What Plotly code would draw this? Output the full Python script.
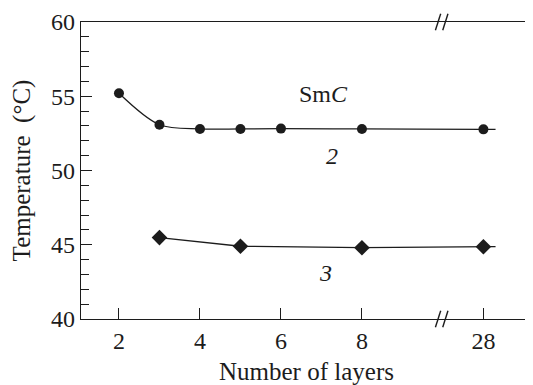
import plotly.graph_objects as go

# ---- data ----
layers_2 = [2, 3, 4, 5, 6, 8, 28]
temp_2 = [55.2, 53.08, 52.8, 52.8, 52.82, 52.8, 52.77]
layers_3 = [3, 5, 8, 28]
temp_3 = [45.48, 44.9, 44.8, 44.87]
x_tick_labels = [2, 4, 6, 8, 28]
y_ticks = [40, 45, 50, 55, 60]

BREAK_LAST = 8      # last value before the axis break
BREAK_POS = 11      # axis position used for values after the break
BREAK_MARK = 9.97   # where the // marks are drawn
TAIL = 0.3          # line continues a little past the last point


def axis_pos(n):
    return n if n <= BREAK_LAST else BREAK_POS


x2 = [axis_pos(v) for v in layers_2]
x3 = [axis_pos(v) for v in layers_3]

FONT = "Liberation Serif, Times New Roman, serif"
INK = "#1c1c1c"

fig = go.Figure()

# series 2 (smooth curve + circles)
fig.add_trace(go.Scatter(
    x=x2 + [x2[-1] + TAIL], y=temp_2 + [temp_2[-1]],
    mode="lines", line=dict(color=INK, width=1.3, shape="spline", smoothing=0.9),
    hoverinfo="skip", showlegend=False))
fig.add_trace(go.Scatter(
    x=x2, y=temp_2, mode="markers",
    marker=dict(symbol="circle", size=10, color=INK),
    showlegend=False))

# series 3 (straight segments + diamonds)
fig.add_trace(go.Scatter(
    x=x3 + [x3[-1] + TAIL], y=temp_3 + [temp_3[-1]],
    mode="lines", line=dict(color=INK, width=1.3),
    hoverinfo="skip", showlegend=False))
fig.add_trace(go.Scatter(
    x=x3, y=temp_3, mode="markers",
    marker=dict(symbol="diamond", size=12, color=INK),
    showlegend=False))

# axis break marks (top and bottom)
shapes = []
dx = 0.13
dy = 0.028
for yb in (0, 1):
    for off in (-0.09, 0.09):
        xc = BREAK_MARK + off
        shapes.append(dict(type="line", xref="x", yref="paper",
                           x0=xc - dx / 2, y0=yb - dy, x1=xc + dx / 2, y1=yb + dy,
                           line=dict(color=INK, width=1.4)))
# right border (light)
shapes.append(dict(type="line", xref="paper", yref="paper", x0=1, x1=1, y0=0, y1=1,
                   line=dict(color="#b0b0b0", width=1)))

annotations = [
    dict(x=7.04, y=55.13, text="Sm<i>C</i>", showarrow=False,
         font=dict(family=FONT, size=24, color=INK)),
    dict(x=7.25, y=51.0, text="<i>2</i>", showarrow=False,
         font=dict(family=FONT, size=24, color=INK)),
    dict(x=7.09, y=43.08, text="<i>3</i>", showarrow=False,
         font=dict(family=FONT, size=24, color=INK)),
]

# the page body has an 8px margin, so the figure is 8px smaller than the window
fig.update_layout(
    width=525, height=377,
    margin=dict(l=73, r=1, t=9, b=61),
    paper_bgcolor="white", plot_bgcolor="white",
    font=dict(family=FONT, size=24, color=INK),
    shapes=shapes, annotations=annotations,
    xaxis=dict(
        range=[1.062, 12.2],
        tickvals=[axis_pos(t) for t in x_tick_labels],
        ticktext=[str(t) for t in x_tick_labels],
        ticks="inside", ticklen=11, tickwidth=1.3, tickcolor=INK,
        showline=True, linecolor=INK, linewidth=1.4, mirror=True,
        showgrid=False, zeroline=False,
        tickfont=dict(family=FONT, size=24, color=INK),
        ticklabeloverflow="allow",
        title=dict(text="Number of layers", standoff=12,
                   font=dict(family=FONT, size=25, color=INK)),
    ),
    yaxis=dict(
        range=[40, 60],
        tickvals=y_ticks,
        ticks="inside", ticklen=11, tickwidth=1.3, tickcolor=INK,
        minor=dict(dtick=1, ticks="inside", ticklen=8, tickwidth=1.2, tickcolor=INK),
        showline=True, linecolor=INK, linewidth=1.4,
        showgrid=False, zeroline=False,
        tickfont=dict(family=FONT, size=24, color=INK),
        ticklabeloverflow="allow",
        title=dict(text="Temperature\u00a0\u00a0(°C)", standoff=13,
                   font=dict(family=FONT, size=25, color=INK)),
    ),
)

fig.write_html("out.html")
